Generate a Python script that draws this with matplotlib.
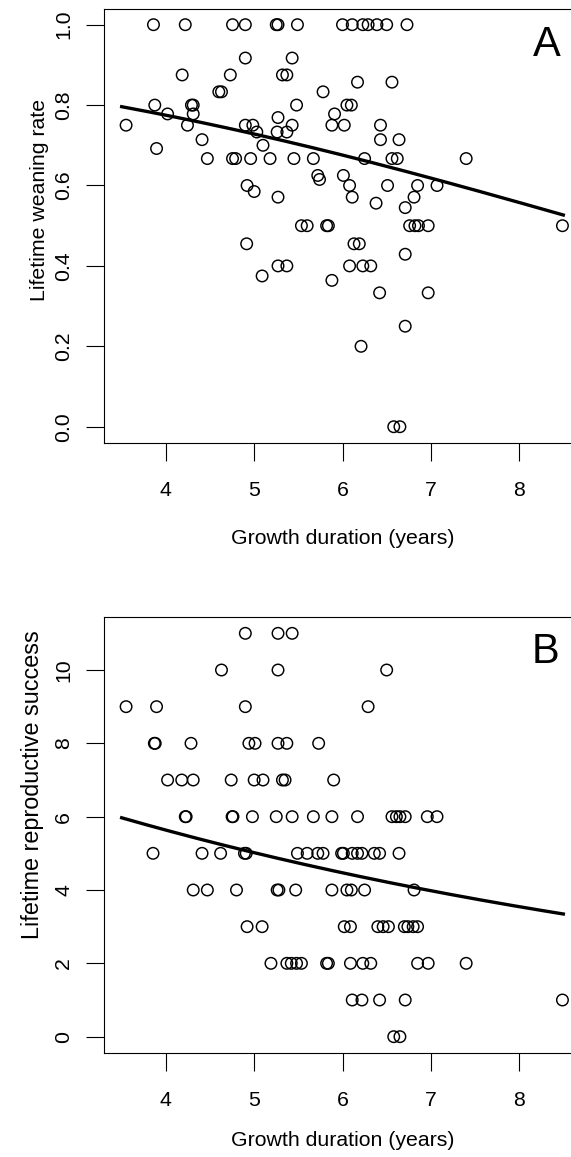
import numpy as np
import matplotlib
matplotlib.use("Agg")
import matplotlib.pyplot as plt
from matplotlib.ticker import FormatStrFormatter

plt.rcParams['font.family'] = ['Liberation Sans', 'DejaVu Sans']

# ---------------- Panel A data: growth duration vs lifetime weaning rate
growth_A = [3.86, 4.22, 4.755, 4.90, 5.25, 5.27, 5.49, 6.00, 6.11, 6.23, 6.29, 6.39, 6.50, 6.73,
            4.90, 5.43,
            4.185, 4.73, 5.32, 5.37,
            6.17, 6.56,
            4.60, 4.63, 5.78,
            3.875, 4.29, 4.31, 5.48, 6.05, 6.10,
            4.02, 4.31, 5.91,
            5.27,
            3.55, 4.245, 4.90, 4.985, 5.43, 5.88, 6.02, 6.43,
            5.03, 5.26, 5.37,
            4.41, 6.43, 6.64,
            5.10,
            3.895,
            4.47, 4.755, 4.79, 4.96, 5.18, 5.45, 5.67, 6.25, 6.56, 6.62, 7.40,
            5.72, 6.01,
            5.74,
            4.92, 6.08, 6.51, 6.85, 7.07,
            5.00,
            5.27, 6.11, 6.81,
            6.38,
            6.71,
            5.535, 5.60, 5.82, 5.84, 6.76, 6.82, 6.86, 6.97, 8.49,
            4.915, 6.13, 6.19,
            6.71,
            5.27, 5.37, 6.08, 6.23, 6.32,
            5.09,
            5.88,
            6.42, 6.97,
            6.71,
            6.21,
            6.58, 6.65]
rate_A = [1.0] * 14 + [0.917] * 2 + [0.875] * 4 + [0.857] * 2 + [0.833] * 3 + \
         [0.8] * 6 + [0.778] * 3 + [0.769] + [0.75] * 8 + [0.733] * 3 + [0.714] * 3 + \
         [0.70] + [0.692] + [0.667] * 11 + [0.625] * 2 + [0.615] + [0.6] * 5 + [0.585] + \
         [0.571] * 3 + [0.556] + [0.545] + [0.5] * 9 + [0.455] * 3 + [0.429] + [0.4] * 5 + \
         [0.375] + [0.364] + [0.333] * 2 + [0.25] + [0.2] + [0.0] * 2

# ---------------- Panel B data: growth duration vs lifetime reproductive success
growth_B = [4.90, 5.27, 5.43,
            4.63, 5.27, 6.50,
            3.55, 3.895, 4.90, 6.29,
            3.87, 3.88, 4.285, 4.94, 5.01, 5.27, 5.37, 5.73,
            4.02, 4.18, 4.31, 4.74, 5.00, 5.10, 5.32, 5.35, 5.90,
            4.22, 4.23, 4.75, 4.76, 4.98, 5.25, 5.43, 5.67, 5.88, 6.17, 6.56, 6.61, 6.65, 6.71, 6.96, 7.07,
            3.855, 4.41, 4.62, 4.89, 4.91, 5.49, 5.60, 5.72, 5.78, 5.99, 6.01, 6.11, 6.17, 6.22, 6.36, 6.42, 6.64,
            4.31, 4.47, 4.80, 5.26, 5.28, 5.47, 5.88, 6.05, 6.10, 6.25, 6.81,
            4.92, 5.09, 6.02, 6.09, 6.40, 6.46, 6.52, 6.70, 6.74, 6.80, 6.85,
            5.19, 5.37, 5.42, 5.48, 5.535, 5.82, 5.84, 6.09, 6.23, 6.32, 6.85, 6.97, 7.40,
            6.11, 6.22, 6.42, 6.71, 8.49,
            6.58, 6.65]
lrs_B = [11] * 3 + [10] * 3 + [9] * 4 + [8] * 8 + [7] * 9 + [6] * 16 + [5] * 17 + \
        [4] * 11 + [3] * 11 + [2] * 13 + [1] * 5 + [0] * 2

# fitted model coefficients (logistic for A, log-link for B)
fit_A = (2.240, -0.251)
fit_B = (2.192, -0.1158)
fit_range = (3.5, 8.5)

x_ticks = [4, 5, 6, 7, 8]
y_ticks_A = [0.0, 0.2, 0.4, 0.6, 0.8, 1.0]
y_ticks_B = [0, 2, 4, 6, 8, 10]

W, H = 571, 1157
fig = plt.figure(figsize=(W / 100, H / 100), dpi=100)

FS = 15.3
def px(v):
    return v * 72 / 100

def style(ax):
    for s in ax.spines.values():
        s.set_linewidth(0.8)
    ax.tick_params(axis='both', length=px(18), width=0.8, labelsize=FS, color='black')
    ax.tick_params(axis='x', pad=px(20))
    ax.tick_params(axis='y', pad=px(13), labelrotation=90)
    for lab in ax.get_yticklabels():
        lab.set_va('center')
    ax.set_xlim(3.3, 8.7)
    ax.set_xticks(x_ticks)

MS = px(11.5) ** 2
MEW = 1.05

# Panel A
axA = fig.add_axes([104 / W, 1 - 442.8 / H, (581 - 104) / W, (442.8 - 8.6) / H])
axA.scatter(growth_A, rate_A, s=MS, facecolors='none', edgecolors='black', linewidths=MEW)
xs = np.linspace(*fit_range, 200)
axA.plot(xs, 1 / (1 + np.exp(-(fit_A[0] + fit_A[1] * xs))), color='black', lw=2.4)
axA.set_ylim(-0.04, 1.04)
axA.set_yticks(y_ticks_A)
axA.yaxis.set_major_formatter(FormatStrFormatter('%.1f'))
style(axA)
axA.text(8.31, 0.950, 'A', fontsize=30, ha='center', va='center')
fig.text(0.5 * (104 + 581) / W, 1 - 538 / H, 'Growth duration (years)', fontsize=FS, ha='center', va='center')
fig.text(40 / W, 1 - 200 / H, 'Lifetime weaning rate', fontsize=FS, rotation=90, ha='center', va='center')

# Panel B
axB = fig.add_axes([104 / W, 1 - 1052.8 / H, (581 - 104) / W, (1052.8 - 617.2) / H])
axB.scatter(growth_B, lrs_B, s=MS, facecolors='none', edgecolors='black', linewidths=MEW)
axB.plot(xs, np.exp(fit_B[0] + fit_B[1] * xs), color='black', lw=2.4)
axB.set_ylim(-0.44, 11.44)
axB.set_yticks(y_ticks_B)
style(axB)
axB.text(8.30, 10.50, 'B', fontsize=30, ha='center', va='center')
fig.text(0.5 * (104 + 581) / W, 1 - 1140 / H, 'Growth duration (years)', fontsize=FS, ha='center', va='center')
fig.text(33 / W, 1 - 785 / H, 'Lifetime reproductive success', fontsize=FS * 1.1, rotation=90, ha='center', va='center')

fig.savefig('out.png', dpi=100)
